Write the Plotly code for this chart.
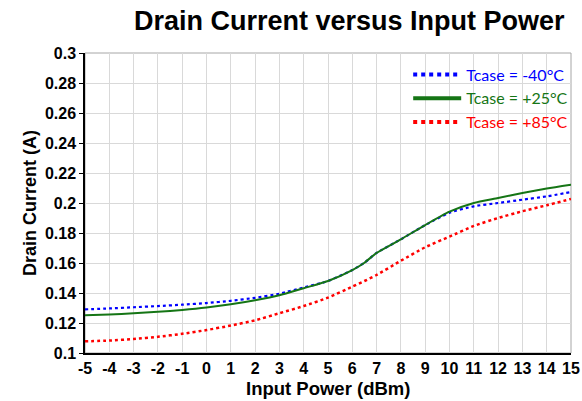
import plotly.graph_objects as go

x_dbm = [-5, -4, -3, -2, -1, 0, 1, 2, 3, 4, 5, 6, 6.5, 7, 8, 9, 10, 11, 12, 13, 14, 15]
i_m40 = [0.1291, 0.1297, 0.1305, 0.1313, 0.1322, 0.1333, 0.1348, 0.1368, 0.1395, 0.1437, 0.1480,
         0.1553, 0.1602, 0.1667, 0.1758, 0.1853, 0.1935, 0.1978, 0.2000, 0.2022, 0.2044, 0.2073]
i_p25 = [0.1252, 0.1257, 0.1265, 0.1275, 0.1287, 0.1303, 0.1325, 0.1352, 0.1385, 0.1432, 0.1480,
         0.1553, 0.1602, 0.1667, 0.1758, 0.1853, 0.1942, 0.2000, 0.2033, 0.2067, 0.2096, 0.2121]
i_p85 = [0.1078, 0.1083, 0.1093, 0.1108, 0.1128, 0.1153, 0.1183, 0.1218, 0.1265, 0.1313, 0.1369,
         0.1442, 0.1480, 0.1520, 0.1615, 0.1705, 0.1776, 0.1847, 0.1900, 0.1945, 0.1985, 0.2027]
names = ["Tcase = -40°C", "Tcase = +25°C", "Tcase = +85°C"]
colors = ["#0000FF", "#157515", "#FF0000"]
x_ticks = list(range(-5, 16))
y_ticks = [0.1, 0.12, 0.14, 0.16, 0.18, 0.2, 0.22, 0.24, 0.26, 0.28, 0.3]
y_labels = ["0.1", "0.12", "0.14", "0.16", "0.18", "0.2", "0.22", "0.24", "0.26", "0.28", "0.3"]

fig = go.Figure()
series = [i_m40, i_p25, i_p85]
dashes = ["dot", "solid", "dot"]
widths = [2.2, 2, 2.5]
for idx in [2, 0, 1]:
    fig.add_trace(go.Scatter(x=x_dbm, y=series[idx], mode="lines", showlegend=False,
                             line=dict(color=colors[idx], dash=dashes[idx], width=widths[idx],
                                       shape="spline", smoothing=0.6)))
for idx in range(3):
    fig.add_trace(go.Scatter(x=[None], y=[None], mode="lines",
                             name=f"<span style='color:{colors[idx]}'>{names[idx]}</span>",
                             line=dict(color=colors[idx], dash=dashes[idx], width=4)))

fig.update_layout(
    width=582, height=401,
    margin=dict(l=85, r=11, t=53, b=48, autoexpand=False),
    paper_bgcolor="white", plot_bgcolor="white",
    title=dict(text="<b>Drain Current versus Input Power</b>", x=0.6, xanchor="center",
               y=0.95, yanchor="middle",
               font=dict(family="Liberation Sans, Arial", size=27, color="black")),
    font=dict(family="Liberation Sans, Arial", color="black"),
    legend=dict(x=0.665, y=0.985, xanchor="left", yanchor="top", bgcolor="rgba(0,0,0,0)",
                itemwidth=48, font=dict(family="Lato, Open Sans", size=16),
                tracegroupgap=0),
    showlegend=True,
)
fig.update_xaxes(range=[-5, 15], tickmode="array", tickvals=x_ticks,
                 ticktext=[f"<b>{v}</b>" for v in x_ticks], automargin=False,
                 tickfont=dict(size=16), showgrid=True, gridcolor="#D9D9D9", gridwidth=1,
                 showline=True, linecolor="black", linewidth=1.5, mirror=False,
                 ticks="", ticklen=0,
                 zeroline=False)
fig.update_yaxes(range=[0.1, 0.3], tickmode="array", tickvals=y_ticks,
                 ticktext=[f"<b>{t}</b>" for t in y_labels], automargin=False,
                 tickfont=dict(size=16), showgrid=True, gridcolor="#D9D9D9", gridwidth=1,
                 showline=True, linecolor="black", linewidth=1.5, mirror=False,
                 ticks="outside", ticklen=4, tickcolor="black",
                 title=dict(text="<b>Drain Current (A)</b>", font=dict(size=18), standoff=4),
                 zeroline=False)
fig.add_annotation(text="<b>Input Power (dBm)</b>", xref="paper", yref="paper",
                   x=0.5, y=0, yshift=-35, xanchor="center", yanchor="middle",
                   showarrow=False, font=dict(size=18.5, color="black"))
fig.add_shape(type="rect", xref="paper", yref="paper", x0=0, y0=0, x1=1, y1=1,
              line=dict(color="#A6A6A6", width=1), layer="below")
fig.write_html("out.html")
